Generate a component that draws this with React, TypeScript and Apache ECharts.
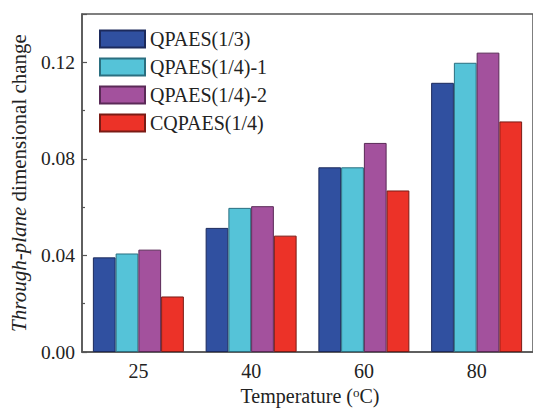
import React, { useEffect, useRef } from "react";
import * as echarts from "echarts";

const categories = ["25", "40", "60", "80"];
const seriesNames = ["QPAES(1/3)", "QPAES(1/4)-1", "QPAES(1/4)-2", "CQPAES(1/4)"];
const qpaes13 = [0.0392, 0.0514, 0.0765, 0.1115];
const qpaes14_1 = [0.0408, 0.0597, 0.0765, 0.1198];
const qpaes14_2 = [0.0424, 0.0604, 0.0866, 0.124];
const cqpaes14 = [0.023, 0.0482, 0.0669, 0.0955];
const colors = ["#3050A0", "#55C3D8", "#A3519D", "#EC3228"];
const borders = ["#1c2a5c", "#2b6f80", "#5a2a57", "#7a1b15"];

const FONT = "'Liberation Serif', 'Times New Roman', serif";

export default function App() {
  const ref = useRef<HTMLDivElement>(null);
  useEffect(() => {
    if (!ref.current) return;
    const chart = echarts.init(ref.current, undefined, { renderer: "svg" });
    const data = [qpaes13, qpaes14_1, qpaes14_2, cqpaes14];
    chart.setOption({
      animation: false,
      backgroundColor: "#ffffff",
      textStyle: { fontFamily: FONT },
      grid: {
        left: 82,
        top: 14,
        right: -10,
        bottom: 57,
        show: true,
        borderColor: "#555",
        borderWidth: 1.5,
        backgroundColor: "transparent",
      },
      legend: {
        orient: "vertical",
        left: 99,
        top: 29,
        padding: 0,
        itemWidth: 45,
        itemHeight: 17,
        itemGap: 8,
        icon: "rect",
        data: seriesNames,
        textStyle: {
          fontFamily: FONT,
          fontSize: 20,
          color: "#222",
          lineHeight: 17,
        },
      },
      xAxis: {
        type: "category",
        data: categories,
        boundaryGap: true,
        axisLine: { lineStyle: { color: "#555", width: 1.5 } },
        axisTick: { show: false },
        axisLabel: {
          fontFamily: FONT,
          fontSize: 20,
          color: "#222",
          margin: 9,
        },
        name: "Temperature ({s|o}C)",
        nameLocation: "middle",
        nameGap: 34,
        nameTextStyle: {
          fontFamily: FONT,
          fontSize: 20,
          color: "#222",
          padding: [0, 0, 0, 5],
          rich: {
            s: {
              fontFamily: FONT,
              fontSize: 13,
              color: "#222",
              verticalAlign: "top",
              padding: [0, 0, 6, 0],
            },
          },
        },
      },
      yAxis: {
        type: "value",
        min: 0,
        max: 0.14,
        interval: 0.04,
        axisLine: { show: true, lineStyle: { color: "#555", width: 1.5 } },
        axisTick: {
          show: true,
          inside: true,
          length: 5,
          lineStyle: { color: "#555", width: 1.2 },
        },
        minorTick: {
          show: true,
          splitNumber: 2,
          length: 3,
          lineStyle: { color: "#555", width: 1.2 },
        },
        splitLine: { show: false },
        axisLabel: {
          fontFamily: FONT,
          fontSize: 19.5,
          color: "#222",
          margin: 7,
          showMaxLabel: false,
          formatter: (v: number) => (Math.abs(v - 0.14) < 1e-9 ? "" : v.toFixed(2)),
        },
        name: "{i|Through-plane} dimensional change",
        nameLocation: "middle",
        nameGap: 51,
        nameTextStyle: {
          fontFamily: FONT,
          fontSize: 21,
          color: "#222",
          rich: {
            i: {
              fontFamily: FONT,
              fontSize: 21,
              fontStyle: "italic",
              color: "#222",
            },
          },
        },
      },
      series: seriesNames.map((name, i) => ({
        name,
        type: "bar",
        data: data[i],
        barGap: "0%",
        barCategoryGap: "19.3%",
        itemStyle: {
          color: colors[i],
          borderColor: borders[i],
          borderWidth: 1,
        },
      })),
    });
    return () => chart.dispose();
  }, []);
  return (
    <div
      ref={ref}
      style={{ position: "fixed", left: 0, top: 0, width: 533, height: 411 }}
    />
  );
}
